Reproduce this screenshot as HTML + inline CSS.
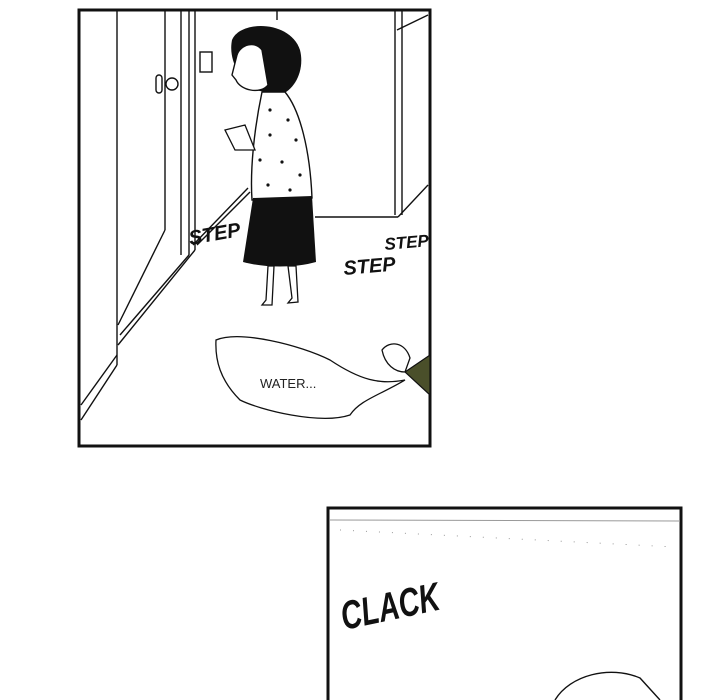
<!DOCTYPE html>
<html><head><style>
html,body{margin:0;padding:0;background:#fff;}
svg{display:block;}
text{font-family:"Liberation Sans",sans-serif;}
</style></head><body>
<svg width="720" height="700" viewBox="0 0 720 700" xmlns="http://www.w3.org/2000/svg">
<rect width="720" height="700" fill="#fff"/>
<rect x="79" y="10" width="351" height="436" fill="#fff" stroke="#111" stroke-width="3"/>
<g stroke="#111" stroke-width="1.4" fill="none">
  <line x1="117" y1="11" x2="117" y2="345"/>
  <line x1="165" y1="11" x2="165" y2="230"/>
  <line x1="181" y1="11" x2="181" y2="255"/>
  <line x1="189" y1="11" x2="189" y2="255"/>
  <line x1="195" y1="11" x2="195" y2="250"/>
  <line x1="165" y1="230" x2="118" y2="325"/>
  <line x1="195" y1="250" x2="118" y2="345"/>
  <line x1="189" y1="255" x2="120" y2="335"/>
  <line x1="117" y1="355" x2="81" y2="405"/>
  <line x1="117" y1="365" x2="81" y2="420"/>
  <line x1="117" y1="345" x2="117" y2="365"/>
  <line x1="395" y1="11" x2="395" y2="215"/>
  <line x1="402" y1="11" x2="402" y2="215"/>
  <line x1="315" y1="217" x2="398" y2="217"/>
  <line x1="398" y1="217" x2="428" y2="185"/>
  <line x1="397" y1="30" x2="428" y2="15"/>
  <line x1="277" y1="11" x2="277" y2="20"/>
  <rect x="200" y="52" width="12" height="20"/>
  <circle cx="172" cy="84" r="6" fill="#fff"/>
  <rect x="156" y="75" width="6" height="18" rx="3" fill="#fff"/>
  <line x1="193" y1="245" x2="248" y2="188"/>
  <line x1="197" y1="245" x2="250" y2="192"/>
</g>
<path d="M232 40 C240 20 290 20 300 50 C305 70 295 90 280 95 L255 90 C240 80 228 60 232 40Z" fill="#111"/>
<path d="M237 55 C240 45 255 40 262 50 L268 85 C260 95 240 90 236 80 L232 75 Z" fill="#fff" stroke="#111" stroke-width="1.4"/>
<path d="M262 92 L285 92 C300 110 310 150 312 198 L252 200 C250 170 254 130 262 92Z" fill="#fff" stroke="#111" stroke-width="1.4"/>
<g fill="#111">
<circle cx="270" cy="110" r="1.6"/><circle cx="288" cy="120" r="1.6"/><circle cx="270" cy="135" r="1.6"/><circle cx="296" cy="140" r="1.6"/><circle cx="260" cy="160" r="1.6"/><circle cx="282" cy="162" r="1.6"/><circle cx="300" cy="175" r="1.6"/><circle cx="268" cy="185" r="1.6"/><circle cx="290" cy="190" r="1.6"/>
</g>
<path d="M253 198 L312 196 L316 262 C295 268 265 268 243 262Z" fill="#111"/>
<g stroke="#111" stroke-width="1.3" fill="#fff">
<path d="M268 266 L266 300 L262 305 L272 305 L274 266Z"/>
<path d="M288 266 L292 298 L288 303 L298 302 L296 266Z"/>
<path d="M225 130 L245 125 L255 150 L235 150 Z"/>
</g>
<g font-family="Liberation Sans" font-weight="bold" font-style="italic" fill="#111">
<text x="190" y="245" font-size="20" transform="rotate(-10 190 245)">STEP</text>
<text x="344" y="275" font-size="20" transform="rotate(-5 344 275)">STEP</text>
<text x="385" y="250" font-size="17" transform="rotate(-5 385 250)">STEP</text>
</g>
<path d="M216 340 C240 330 300 345 330 360 C360 380 380 385 405 380 C380 395 360 400 350 415 C320 425 260 410 240 400 C220 380 215 360 216 340Z" fill="#fff" stroke="#111" stroke-width="1.3"/>
<text x="260" y="388" font-size="13" fill="#222">WATER...</text>
<path d="M405 372 L430 355 L430 395 Z" fill="#4a4f2a" stroke="#111" stroke-width="1.2"/>
<path d="M382 350 C390 340 405 342 410 358 L405 372 C395 372 385 365 382 350Z" fill="#fff" stroke="#111" stroke-width="1.3"/>
<rect x="328" y="508" width="353" height="200" fill="#fff" stroke="#111" stroke-width="3"/>
<line x1="330" y1="520" x2="680" y2="521" stroke="#999" stroke-width="1"/>
<line x1="340" y1="530" x2="675" y2="547" stroke="#999" stroke-width="1" stroke-dasharray="1 12"/>
<text x="344" y="630" font-size="40" font-weight="bold" font-style="italic" fill="#111" transform="rotate(-12 344 630)" font-family="Liberation Sans" textLength="100" lengthAdjust="spacingAndGlyphs">CLACK</text>
<path d="M555 700 C570 675 610 665 640 678 L660 700" fill="none" stroke="#111" stroke-width="1.4"/>
</svg>
</body></html>
